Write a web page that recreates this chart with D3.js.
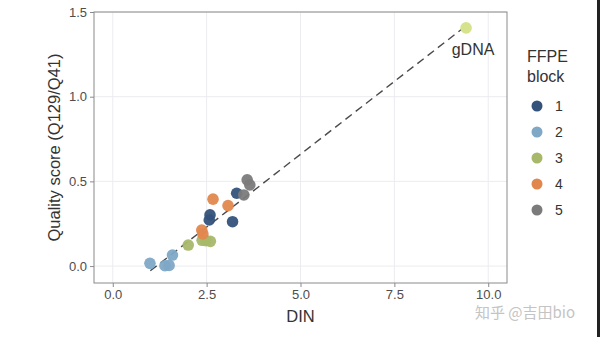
<html>
<script src='https://d3js.org/d3.v7.min.js'></script>
<style>
body {margin:0; background:#fff;}
text {font-family: Arial, "Liberation Sans", sans-serif;}
</style>
<body onload='init()'>
<svg width=600 height=337></svg>
<script>
// FFPE blocks: [DIN, quality score]
var blocks = ["1","2","3","4","5"];
var blockColors = ["#34527a","#7ea8c6","#a8b86a","#e1874e","#7b7b7b"];
var block1 = [[2.59,0.302],[2.57,0.272],[3.19,0.262],[3.30,0.430]];
var block2 = [[0.99,0.016],[1.39,0.002],[1.50,0.004],[1.59,0.065]];
var block3 = [[2.01,0.124],[2.38,0.152],[2.48,0.150],[2.60,0.146]];
var block4 = [[2.37,0.213],[2.40,0.190],[2.67,0.395],[3.07,0.357]];
var block5 = [[3.49,0.420],[3.58,0.509],[3.65,0.479]];
var gdna = [[9.41,1.406]];
var fit = {slope:0.172, intercept:-0.2, from:1.0, to:9.41};
var xTicks = [0,2.5,5,7.5,10];
var yTicks = [0,0.5,1.0,1.5];

function init()
{
    var svg = d3.select("svg");
    var x = d3.scaleLinear().domain([-0.5,10.5]).range([94,507]);
    var y = d3.scaleLinear().domain([-0.1,1.5]).range([283,12]);

    // grid
    svg.append("g").selectAll("line").data(xTicks).enter().append("line")
    .attr("x1",d=>x(d)).attr("x2",d=>x(d)).attr("y1",12).attr("y2",283)
    .attr("stroke","#ecebf0").attr("stroke-width",1);
    svg.append("g").selectAll("line").data(yTicks).enter().append("line")
    .attr("y1",d=>y(d)).attr("y2",d=>y(d)).attr("x1",94).attr("x2",507)
    .attr("stroke","#ecebf0").attr("stroke-width",1);

    // fit line
    svg.append("line")
    .attr("x1",x(fit.from)).attr("y1",y(fit.slope*fit.from+fit.intercept))
    .attr("x2",x(fit.to)).attr("y2",y(fit.slope*fit.to+fit.intercept))
    .attr("stroke","#4a4a4a").attr("stroke-width",1.4).attr("stroke-dasharray","8,5");

    // points
    var all = [block1,block2,block3,block4,block5];
    all.forEach(function(pts,i) {
        svg.append("g").selectAll("circle").data(pts).enter().append("circle")
        .attr("cx",d=>x(d[0])).attr("cy",d=>y(d[1])).attr("r",5.8)
        .attr("fill",blockColors[i]).attr("opacity",0.95);
    });
    svg.append("g").selectAll("circle").data(gdna).enter().append("circle")
    .attr("cx",d=>x(d[0])).attr("cy",d=>y(d[1])).attr("r",5.8).attr("fill","#d6e28c");
    svg.append("text").attr("x",x(gdna[0][0])+7).attr("y",y(gdna[0][1])+27)
    .attr("text-anchor","middle").attr("font-size",16).attr("fill","#333").text("gDNA");

    // panel border
    svg.append("rect").attr("x",94).attr("y",12).attr("width",413).attr("height",271)
    .attr("fill","none").attr("stroke","#8a8a8a").attr("stroke-width",1);

    // axes
    var ax = svg.append("g").attr("transform","translate(0,283)")
    .call(d3.axisBottom(x).tickValues(xTicks).tickFormat(d3.format(".1f")).tickSize(4).tickPadding(3));
    var ay = svg.append("g").attr("transform","translate(94,0)")
    .call(d3.axisLeft(y).tickValues(yTicks).tickFormat(d3.format(".1f")).tickSize(4).tickPadding(3));
    [ax,ay].forEach(function(a) {
        a.select(".domain").remove();
        a.selectAll("line").attr("stroke","#8a8a8a");
        a.selectAll("text").attr("font-size",13).attr("fill","#4d4d4d")
        .style("font-family","Arial, 'Liberation Sans', sans-serif");
    });

    // titles
    svg.append("text").attr("x",300.5).attr("y",322).attr("text-anchor","middle")
    .attr("font-size",16.5).attr("fill","#333").text("DIN");
    svg.append("text").attr("transform","translate(60,147.5) rotate(-90)")
    .attr("text-anchor","middle").attr("font-size",16.5).attr("fill","#333")
    .text("Quality score (Q129/Q41)");

    // legend
    svg.append("text").attr("x",527).attr("y",62).attr("font-size",16).attr("fill","#333").text("FFPE");
    svg.append("text").attr("x",527).attr("y",82).attr("font-size",16).attr("fill","#333").text("block");
    var lg = svg.append("g").selectAll("g").data(blocks).enter().append("g")
    .attr("transform",(d,i)=>"translate(537,"+(106+i*26)+")");
    lg.append("circle").attr("r",5.5).attr("fill",(d,i)=>blockColors[i]);
    lg.append("text").attr("x",18).attr("y",5).attr("font-size",14).attr("fill","#333").text(d=>d);

    // watermark
    svg.append("text").attr("x",525).attr("y",318).attr("text-anchor","middle")
    .attr("font-size",15).attr("fill","#c4c4c4")
    .style("font-family","'Noto Sans CJK SC', sans-serif").text("知乎 @吉田bio");

    // right edge border
    svg.append("rect").attr("x",597).attr("y",0).attr("width",3).attr("height",337).attr("fill","#222");
}
</script>
</body>
</html>
